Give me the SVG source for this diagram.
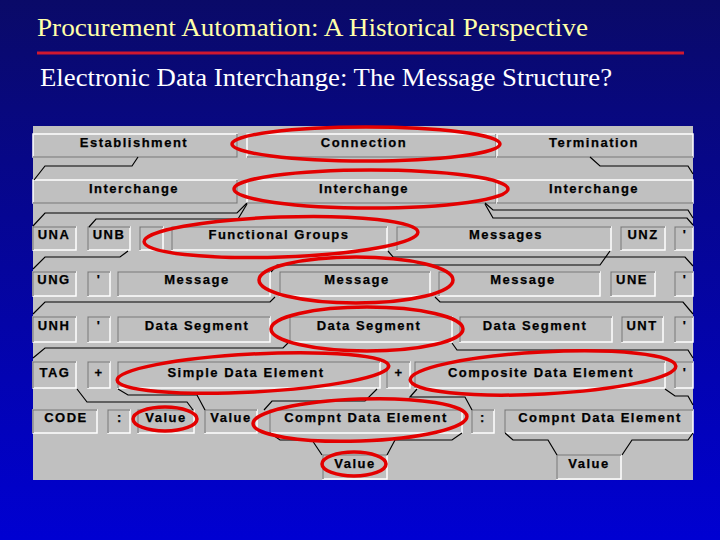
<svg xmlns="http://www.w3.org/2000/svg" width="720" height="540" viewBox="0 0 720 540">
<defs>
<linearGradient id="bg" x1="0" y1="0" x2="0" y2="1">
<stop offset="0" stop-color="#0a0a68"/>
<stop offset="1" stop-color="#0000d2"/>
</linearGradient>
</defs>
<style>
.t{font-family:"Liberation Sans",Arial,sans-serif;font-weight:bold;font-size:13px;letter-spacing:1.5px;fill:#000;stroke:#000;stroke-width:0.25;text-anchor:middle}
.bx{fill:#c0c0c0;stroke:#ffffff;stroke-width:1.5}
.sh{fill:none;stroke:#808080;stroke-width:1.5}
.c{fill:none;stroke:#000;stroke-width:1.2}
.r{fill:none;stroke:#e30000;stroke-width:3.5}
.h{font-family:"Liberation Serif","Times New Roman",serif;font-size:25px}
</style>
<rect x="0" y="0" width="720" height="540" fill="url(#bg)"/>
<text class="h" x="37" y="36" fill="#ffffa8" textLength="551" lengthAdjust="spacingAndGlyphs">Procurement Automation: A Historical Perspective</text>
<rect x="37" y="51.5" width="647" height="3" fill="#d01830"/>
<text class="h" x="40" y="86" fill="#ffffff" textLength="572" lengthAdjust="spacingAndGlyphs">Electronic Data Interchange: The Message Structure?</text>
<rect x="33" y="126" width="660" height="354" fill="#c0c0c0"/>

<g id="row1">
<g id="n-establishment"><rect class="bx" x="33" y="134" width="204" height="23"/><path class="sh" d="M33,157 H237 V134"/><text class="t" x="134" y="147">Establishment</text></g>
<g id="n-connection"><rect class="bx" x="247" y="134" width="249" height="23"/><path class="sh" d="M247,157 H496 V134"/><text class="t" x="364" y="147">Connection</text></g>
<g id="n-termination"><rect class="bx" x="497" y="134" width="196" height="23"/><path class="sh" d="M497,157 H693"/><text class="t" x="594" y="147">Termination</text></g>
</g>
<g id="row2">
<g id="n-interchange1"><rect class="bx" x="33" y="180" width="204" height="23"/><path class="sh" d="M33,203 H237 V180"/><text class="t" x="134" y="193">Interchange</text></g>
<g id="n-interchange2"><rect class="bx" x="247" y="180" width="249" height="23"/><path class="sh" d="M247,203 H496 V180"/><text class="t" x="364" y="193">Interchange</text></g>
<g id="n-interchange3"><rect class="bx" x="497" y="180" width="196" height="23"/><path class="sh" d="M497,203 H693"/><text class="t" x="594" y="193">Interchange</text></g>
</g>
<g id="row3">
<g id="n-una"><rect class="bx" x="33" y="227" width="43" height="23"/><path class="sh" d="M33,250 V227 H76"/><text class="t" x="54" y="239">UNA</text></g>
<g id="n-unb"><rect class="bx" x="88" y="227" width="42" height="23"/><path class="sh" d="M88,250 V227 H130"/><text class="t" x="109" y="239">UNB</text></g>
<g id="n-blank"><rect class="bx" x="140" y="227" width="23" height="23"/><path class="sh" d="M140,250 V227 H163"/></g>
<g id="n-functional-groups"><rect class="bx" x="172" y="227" width="215" height="23"/><path class="sh" d="M172,250 V227 H387"/><text class="t" x="279" y="239">Functional Groups</text></g>
<g id="n-messages"><rect class="bx" x="397" y="227" width="214" height="23"/><path class="sh" d="M397,250 V227 H611"/><text class="t" x="506" y="239">Messages</text></g>
<g id="n-unz"><rect class="bx" x="621" y="227" width="44" height="23"/><path class="sh" d="M621,250 V227 H665"/><text class="t" x="643" y="239">UNZ</text></g>
<g id="n-q3"><rect class="bx" x="675" y="227" width="18" height="23"/><path class="sh" d="M675,250 V227 H693"/><text class="t" x="685" y="239">'</text></g>
</g>
<g id="row4">
<g id="n-ung"><rect class="bx" x="33" y="272" width="43" height="24"/><path class="sh" d="M33,296 V272 H76"/><text class="t" x="54" y="284">UNG</text></g>
<g id="n-q4a"><rect class="bx" x="88" y="272" width="22" height="24"/><path class="sh" d="M88,296 V272 H110"/><text class="t" x="99" y="284">'</text></g>
<g id="n-message1"><rect class="bx" x="118" y="272" width="152" height="24"/><path class="sh" d="M118,296 V272 H270"/><text class="t" x="197" y="284">Message</text></g>
<g id="n-message2"><rect class="bx" x="280" y="272" width="150" height="24"/><path class="sh" d="M280,296 V272 H430"/><text class="t" x="357" y="284">Message</text></g>
<g id="n-message3"><rect class="bx" x="439" y="272" width="161" height="24"/><path class="sh" d="M439,296 V272 H600"/><text class="t" x="523" y="284">Message</text></g>
<g id="n-une"><rect class="bx" x="611" y="272" width="44" height="24"/><path class="sh" d="M611,296 V272 H655"/><text class="t" x="632" y="284">UNE</text></g>
<g id="n-q4b"><rect class="bx" x="675" y="272" width="18" height="24"/><path class="sh" d="M675,296 V272 H693"/><text class="t" x="685" y="284">'</text></g>
</g>
<g id="row5">
<g id="n-unh"><rect class="bx" x="33" y="317" width="43" height="25"/><path class="sh" d="M33,342 V317 H76"/><text class="t" x="54" y="330">UNH</text></g>
<g id="n-q5a"><rect class="bx" x="88" y="317" width="22" height="25"/><path class="sh" d="M88,342 V317 H110"/><text class="t" x="99" y="330">'</text></g>
<g id="n-segment1"><rect class="bx" x="118" y="317" width="152" height="25"/><path class="sh" d="M118,342 V317 H270"/><text class="t" x="197" y="330">Data Segment</text></g>
<g id="n-segment2"><rect class="bx" x="290" y="317" width="162" height="25"/><path class="sh" d="M290,342 V317 H452"/><text class="t" x="369" y="330">Data Segment</text></g>
<g id="n-segment3"><rect class="bx" x="460" y="317" width="152" height="25"/><path class="sh" d="M460,342 V317 H612"/><text class="t" x="535" y="330">Data Segment</text></g>
<g id="n-unt"><rect class="bx" x="622" y="317" width="41" height="25"/><path class="sh" d="M622,342 V317 H663"/><text class="t" x="642" y="330">UNT</text></g>
<g id="n-q5b"><rect class="bx" x="675" y="317" width="18" height="25"/><path class="sh" d="M675,342 V317 H693"/><text class="t" x="685" y="330">'</text></g>
</g>
<g id="row6">
<g id="n-tag"><rect class="bx" x="33" y="362" width="43" height="26"/><path class="sh" d="M33,388 V362 H76"/><text class="t" x="55" y="377">TAG</text></g>
<g id="n-plus1"><rect class="bx" x="88" y="362" width="22" height="26"/><path class="sh" d="M88,388 V362 H110"/><text class="t" x="99" y="377">+</text></g>
<g id="n-simple"><rect class="bx" x="118" y="362" width="262" height="26"/><path class="sh" d="M118,388 V362 H380"/><text class="t" x="246" y="377">Simple Data Element</text></g>
<g id="n-plus2"><rect class="bx" x="387" y="362" width="23" height="26"/><path class="sh" d="M387,388 V362 H410"/><text class="t" x="399" y="377">+</text></g>
<g id="n-composite"><rect class="bx" x="415" y="362" width="250" height="26"/><path class="sh" d="M415,388 V362 H665"/><text class="t" x="541" y="377">Composite Data Element</text></g>
<g id="n-q6"><rect class="bx" x="675" y="362" width="18" height="26"/><path class="sh" d="M675,388 V362 H693"/><text class="t" x="685" y="377">'</text></g>
</g>
<g id="row7">
<g id="n-code"><rect class="bx" x="33" y="410" width="64" height="23"/><path class="sh" d="M33,433 V410 H97"/><text class="t" x="66" y="422">CODE</text></g>
<g id="n-colon1"><rect class="bx" x="108" y="410" width="22" height="23"/><path class="sh" d="M108,433 V410 H130"/><text class="t" x="120" y="422">:</text></g>
<g id="n-value1"><rect class="bx" x="138" y="410" width="56" height="23"/><path class="sh" d="M138,433 V410 H194"/><text class="t" x="166" y="422">Value</text></g>
<g id="n-value2"><rect class="bx" x="205" y="410" width="52" height="23"/><path class="sh" d="M205,433 V410 H257"/><text class="t" x="231" y="422">Value</text></g>
<g id="n-compnt1"><rect class="bx" x="270" y="410" width="192" height="23"/><path class="sh" d="M270,433 V410 H462"/><text class="t" x="366" y="422">Compnt Data Element</text></g>
<g id="n-colon2"><rect class="bx" x="472" y="410" width="22" height="23"/><path class="sh" d="M472,433 V410 H494"/><text class="t" x="483" y="422">:</text></g>
<g id="n-compnt2"><rect class="bx" x="505" y="410" width="188" height="23"/><path class="sh" d="M505,433 V410 H693"/><text class="t" x="600" y="422">Compnt Data Element</text></g>
</g>
<g id="row8">
<g id="n-value3"><rect class="bx" x="323" y="455" width="64" height="24"/><path class="sh" d="M323,479 V455 H387"/><text class="t" x="355" y="468">Value</text></g>
<g id="n-value4"><rect class="bx" x="557" y="455" width="64" height="24"/><path class="sh" d="M557,479 V455 H621"/><text class="t" x="589" y="468">Value</text></g>
</g>

<g id="connectors">
<path class="c" d="M138,157 L132,166 H45 L34,180"/>
<path class="c" d="M590,157 L600,166 H688 L693,174"/>
<path class="c" d="M247,203 L237,213 H45 L33,226"/>
<path class="c" d="M247,204 L238,219 H96 L89,227"/>
<path class="c" d="M485,203 L493,210 H688 L693,218"/>
<path class="c" d="M485,204 L493,218 H687 L693,225"/>
<path class="c" d="M128,251 L120,257 H45 L33,269"/>
<path class="c" d="M388,251 L393,257 H685 L693,266"/>
<path class="c" d="M610,251 L600,265 H277 L271,272"/>
<path class="c" d="M275,297 L270,302 H45 L33,314"/>
<path class="c" d="M435,297 L440,302 H683 L693,314"/>
<path class="c" d="M288,343 L283,348 H45 L33,358"/>
<path class="c" d="M452,343 L457,350 H688 L693,358"/>
<path class="c" d="M77,389 L87,402 H187 L193,410"/>
<path class="c" d="M118,389 L128,395 H197 L205,410"/>
<path class="c" d="M377,389 L365,401 H272 L264,410"/>
<path class="c" d="M417,389 L410,397 H465 L472,410"/>
<path class="c" d="M665,389 L675,396 H688 L693,405"/>
<path class="c" d="M270,433 L280,440 H312 L322,455"/>
<path class="c" d="M462,433 L452,440 H395 L387,455"/>
<path class="c" d="M505,433 L513,440 H548 L557,455"/>
<path class="c" d="M693,433 L688,440 H632 L622,455"/>
</g>

<g id="highlights">
<ellipse class="r" cx="366" cy="144" rx="134" ry="17"/>
<ellipse class="r" cx="371" cy="189" rx="137" ry="19"/>
<ellipse class="r" cx="281" cy="237" rx="137" ry="20" transform="rotate(-2 281 237)"/>
<ellipse class="r" cx="356" cy="280" rx="97" ry="23"/>
<ellipse class="r" cx="367" cy="329" rx="96" ry="22"/>
<ellipse class="r" cx="253" cy="373" rx="136" ry="19" transform="rotate(-3 253 373)"/>
<ellipse class="r" cx="543" cy="373" rx="133" ry="21" transform="rotate(-3 543 373)"/>
<ellipse class="r" cx="165" cy="419" rx="32" ry="12"/>
<ellipse class="r" cx="360" cy="420" rx="107" ry="21" transform="rotate(-2 360 420)"/>
<ellipse class="r" cx="354" cy="464" rx="32" ry="12"/>
</g>
</svg>
